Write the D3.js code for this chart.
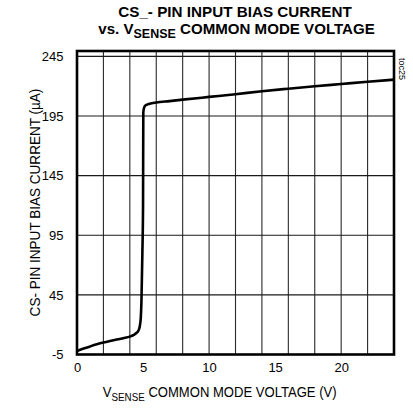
<!DOCTYPE html>
<html><head><meta charset="utf-8">
<script src="https://cdn.jsdelivr.net/npm/d3@7"></script>
<style>body{margin:0;background:#fff}svg{display:block}text{font-family:"Liberation Sans",Arial,sans-serif;fill:#000}</style>
</head><body>
<svg id="c" width="413" height="408"></svg>
<script>
const voltage = [0, 0.5, 1, 1.5, 2, 2.5, 3, 3.5, 4, 4.3, 4.5, 4.65, 4.75, 4.83, 4.88, 4.95, 5.0, 5.02, 5.08, 5.2, 5.5, 6, 7, 8, 10, 12, 14, 16, 18, 20, 22, 24];
const current = [-2, 0, 1.8, 3.5, 5, 6.3, 7.5, 8.7, 10, 11.5, 13, 15, 18.5, 26, 40, 80, 120, 198, 202, 204, 205.3, 206.3, 207.5, 208.7, 211, 213.3, 215.8, 217.9, 219.9, 221.8, 223.7, 225.5];
const xTicks = [0, 5, 10, 15, 20];
const yTicks = [-5, 45, 95, 145, 195, 245];
const xGrid = [2, 4, 6, 8, 10, 12, 14, 16, 18, 20, 22];
const yGrid = [45, 95, 145, 195, 245];

const svg = d3.select("#c");
const L = 77, R = 394, T = 51, B = 354.5;
const x = d3.scaleLinear().domain([0, 24]).range([L, R]);
const y = d3.scaleLinear().domain([-5, 249.5]).range([B, T]);

// grid
svg.append("g").selectAll("line").data(xGrid).join("line")
  .attr("x1", d => x(d)).attr("x2", d => x(d)).attr("y1", T).attr("y2", B)
  .attr("stroke", "#2a2a2a").attr("stroke-width", 1.1);
svg.append("g").selectAll("line").data(yGrid).join("line")
  .attr("y1", d => y(d)).attr("y2", d => y(d)).attr("x1", L).attr("x2", R)
  .attr("stroke", "#1a1a1a").attr("stroke-width", 1.1);

// curve
const line = d3.line().x((d, i) => x(voltage[i])).y(d => y(d)).curve(d3.curveMonotoneX);
svg.append("path").datum(current).attr("d", line)
  .attr("fill", "none").attr("stroke", "#000").attr("stroke-width", 2.6).attr("stroke-linejoin", "round");

// frame
svg.append("rect").attr("x", L).attr("y", T).attr("width", R - L).attr("height", B - T)
  .attr("fill", "none").attr("stroke", "#000").attr("stroke-width", 2.6);

// axes
const fmt = d => String(d);
const ax = svg.append("g").attr("transform", `translate(0,${B})`)
  .call(d3.axisBottom(x).tickValues(xTicks).tickSize(0).tickPadding(8).tickFormat(fmt));
ax.select(".domain").remove();
ax.selectAll("text").style("font-size", "13px").style("font-family", '"Liberation Sans",Arial,sans-serif');

const ay = svg.append("g").attr("transform", `translate(${L},0)`)
  .call(d3.axisLeft(y).tickValues(yTicks).tickSize(0).tickPadding(13.5).tickFormat(fmt));
ay.select(".domain").remove();
ay.selectAll("text").style("font-size", "13px").style("font-family", '"Liberation Sans",Arial,sans-serif');

function fitText(g, text, cx, by, targetW, size, weight, rotate) {
  const t = g.append("text").attr("text-anchor", "middle").style("font-size", size + "px").style("font-weight", weight || "normal");
  text(t);
  const w = t.node().getBBox().width;
  const k = targetW / w;
  t.attr("transform", `translate(${cx},${by})` + (rotate ? ` rotate(${rotate})` : "") + ` scale(${k},1)`);
  return t;
}

// title
fitText(svg, t => t.text("CS_- PIN INPUT BIAS CURRENT"), 235, 17.2, 234, 14.5, "bold");
fitText(svg, t => {
  t.append("tspan").text("vs. V");
  t.append("tspan").attr("dy", 4).style("font-size", "12px").text("SENSE");
  t.append("tspan").attr("dy", -4).text(" COMMON MODE VOLTAGE");
}, 236.5, 33.6, 277, 14.5, "bold");

// x label
fitText(svg, t => {
  t.append("tspan").text("V");
  t.append("tspan").attr("dy", 4).style("font-size", "10.5px").text("SENSE");
  t.append("tspan").attr("dy", -4).text(" COMMON MODE VOLTAGE (V)");
}, 219.7, 396.7, 234, 14);

// y label
fitText(svg, t => t.text("CS- PIN INPUT BIAS CURRENT  (\u00b5A)"), 39.5, 202.5, 228, 14, "normal", -90);

// toc
svg.append("text").attr("transform", `translate(399,69) rotate(90)`).attr("text-anchor", "middle")
  .style("font-size", "9px").text("toc25");
</script>
</body></html>
